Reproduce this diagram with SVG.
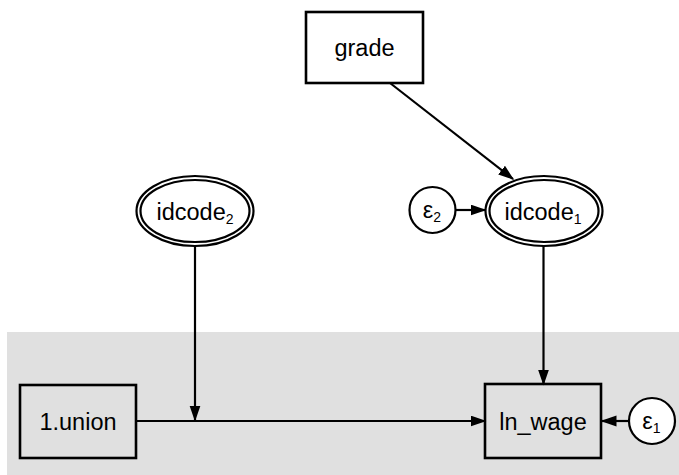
<svg xmlns="http://www.w3.org/2000/svg" width="679" height="475" viewBox="0 0 679 475">
<style>
.box{fill:none;stroke:#000;stroke-width:2.6}
.wbox{fill:#fff;stroke:#000;stroke-width:2.6}
.ell{fill:#fff;stroke:#000;stroke-width:2.2}
.conn{stroke:#000;stroke-width:2.2;fill:none}
.lbl{font-family:"Liberation Sans",Arial,sans-serif;font-size:23.5px;fill:#000;text-anchor:middle}
.sub{font-size:14px}
</style>
<defs>
<marker id="arr" markerUnits="userSpaceOnUse" markerWidth="17" markerHeight="12" refX="14.5" refY="5.5" orient="auto">
<path d="M0,0 L16,5.5 L0,11 z" fill="#000"/>
</marker>
</defs>
<rect x="7" y="332" width="672" height="143" fill="#e0e0e0"/>
<g id="connectors">
<line class="conn" x1="390" y1="83" x2="513" y2="179" marker-end="url(#arr)"/>
<line class="conn" x1="455" y1="210" x2="485" y2="210" marker-end="url(#arr)"/>
<line class="conn" x1="195" y1="246" x2="195" y2="420" marker-end="url(#arr)"/>
<line class="conn" x1="136" y1="421" x2="485" y2="421" marker-end="url(#arr)"/>
<line class="conn" x1="543.5" y1="246" x2="543.5" y2="384" marker-end="url(#arr)"/>
<line class="conn" x1="629" y1="421" x2="602" y2="421" marker-end="url(#arr)"/>
</g>
<g id="grade">
<rect class="wbox" x="306" y="12" width="117" height="71"/>
<text class="lbl" x="364.5" y="56">grade</text>
</g>
<g id="idcode2">
<ellipse class="ell" cx="195" cy="211" rx="58.5" ry="35"/>
<ellipse class="ell" cx="195" cy="211" rx="54.5" ry="31"/>
<text class="lbl" x="195" y="220">idcode<tspan class="sub" dy="4">2</tspan></text>
</g>
<g id="idcode1">
<ellipse class="ell" cx="544" cy="211" rx="58.5" ry="35"/>
<ellipse class="ell" cx="544" cy="211" rx="54.5" ry="31"/>
<text class="lbl" x="543" y="220">idcode<tspan class="sub" dy="4">1</tspan></text>
</g>
<g id="e2">
<circle class="ell" cx="432.5" cy="210" r="23"/>
<text class="lbl" x="432" y="218">ε<tspan class="sub" dy="4">2</tspan></text>
</g>
<g id="union">
<rect class="box" x="20" y="385" width="116" height="73"/>
<text class="lbl" x="78" y="430">1.union</text>
</g>
<g id="ln_wage">
<rect class="box" x="485" y="384" width="116" height="74"/>
<text class="lbl" x="543" y="429.5">ln_wage</text>
</g>
<g id="e1">
<circle class="ell" cx="652" cy="421" r="23"/>
<text class="lbl" x="651.5" y="429">ε<tspan class="sub" dy="4">1</tspan></text>
</g>
</svg>
